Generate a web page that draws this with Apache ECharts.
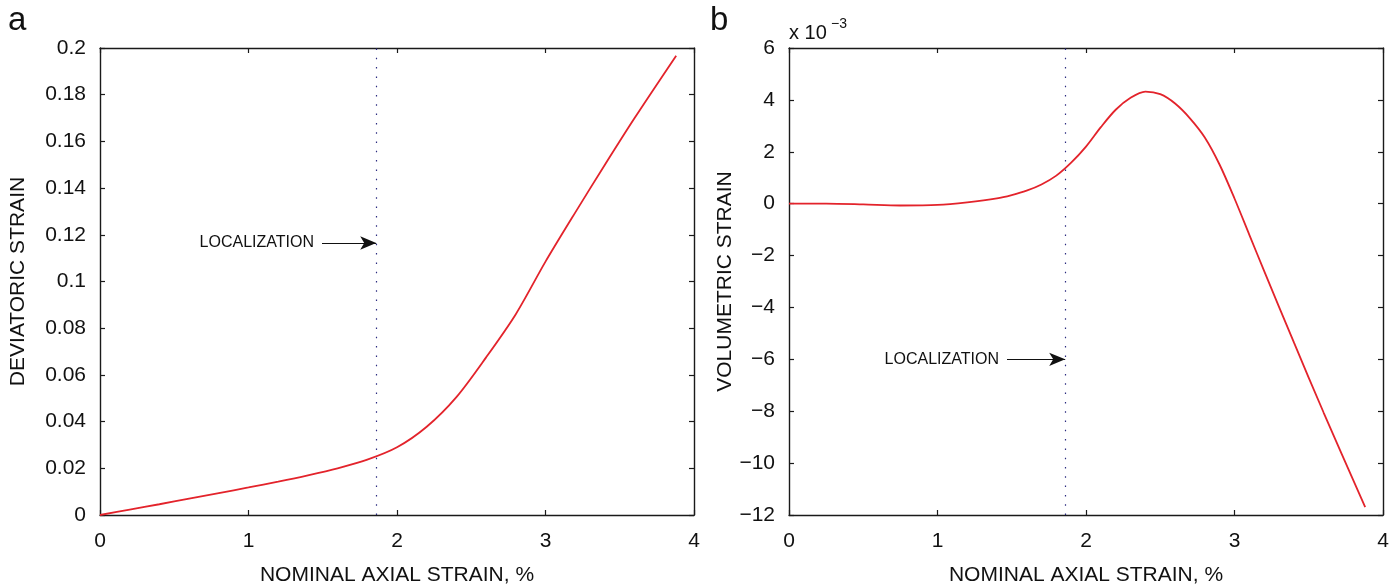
<!DOCTYPE html>
<html>
<head>
<meta charset="utf-8">
<script src="https://cdn.jsdelivr.net/npm/echarts@6/dist/echarts.min.js"></script>
<style>
html,body{margin:0;padding:0;background:#fff;}
#chart{width:1399px;height:586px;}
</style>
</head>
<body>
<div id="chart"></div>
<script>
// ---- data ----
const devStrainX = [0, 0.2, 0.4, 0.6, 0.8, 1.0, 1.2, 1.4, 1.6, 1.8, 2.0, 2.2, 2.4, 2.6, 2.8, 3.0, 3.2, 3.4, 3.6, 3.88];
const devStrainY = [0, 0.0023, 0.0046, 0.0070, 0.0094, 0.0118, 0.0143, 0.0170, 0.0200, 0.0237, 0.0290, 0.0378, 0.0505, 0.0675, 0.0860, 0.1085, 0.1295, 0.1500, 0.1700, 0.1967];
const volStrainX = [0, 0.25, 0.5, 0.75, 1.0, 1.2, 1.4, 1.5, 1.6, 1.7, 1.8, 1.9, 2.0, 2.1, 2.2, 2.3, 2.4, 2.5, 2.6, 2.7, 2.8, 2.9, 3.0, 3.1, 3.2, 3.4, 3.6, 3.88];
const volStrainY = [0, 0, -0.03, -0.07, -0.05, 0.05, 0.2, 0.33, 0.5, 0.74, 1.08, 1.58, 2.2, 2.95, 3.62, 4.08, 4.32, 4.22, 3.86, 3.29, 2.55, 1.5, 0.2, -1.2, -2.6, -5.35, -8.05, -11.7];
const localizationX = 1.86;
const arrowA = {fromX: 1.495, y: 0.1165};
const arrowB = {fromX: 1.468, y: -6.0};
const xTicks = {min: 0, max: 4, interval: 1};
const devTicks = {min: 0, max: 0.2, interval: 0.02};
const volTicks = {min: -12, max: 6, interval: 2};
const xName = 'NOMINAL AXIAL STRAIN, %';
const devName = 'DEVIATORIC STRAIN';
const volName = 'VOLUMETRIC STRAIN';
const locLabel = 'LOCALIZATION';

// ---- chart ----
const FONT = 'Liberation Sans, Arial, sans-serif';
const axisCol = '#1a1a1a';
const red = '#e3232b';
const dotCol = '#2c2c80';

function pairs(xs, ys){ return xs.map((x,i)=>[x, ys[i]]); }
const minus = v => String(v).replace('-', '\u2212');

function xAxisMain(gi){
  return {type:'value', gridIndex:gi, position:'bottom', min:xTicks.min, max:xTicks.max, interval:xTicks.interval,
    name:xName, nameLocation:'middle', nameGap:50, nameTextStyle:{fontFamily:FONT, fontSize:21, color:'#111'},
    axisLine:{show:true, onZero:false, lineStyle:{color:axisCol, width:1.4}},
    axisTick:{show:true, inside:true, length:5, lineStyle:{color:axisCol, width:1.2}},
    axisLabel:{fontFamily:FONT, fontSize:21, color:'#111', margin:16},
    splitLine:{show:false}};
}
function xAxisTop(gi){
  return {type:'value', gridIndex:gi, position:'top', min:xTicks.min, max:xTicks.max, interval:xTicks.interval,
    axisLine:{show:true, onZero:false, lineStyle:{color:axisCol, width:1.4}},
    axisTick:{show:true, inside:true, length:5, lineStyle:{color:axisCol, width:1.2}},
    axisLabel:{show:false}, splitLine:{show:false}};
}
function yAxis(gi, t, name, gap, pos, fmt){
  const main = pos === 'left';
  return {type:'value', gridIndex:gi, position:pos, min:t.min, max:t.max, interval:t.interval,
    name: main ? name : '', nameLocation:'middle', nameGap:gap, nameRotate:90,
    nameTextStyle:{fontFamily:FONT, fontSize:21, color:'#111'},
    axisLine:{show:true, onZero:false, lineStyle:{color:axisCol, width:1.4}},
    axisTick:{show:true, inside:true, length:5, lineStyle:{color:axisCol, width:1.2}},
    axisLabel:{show:main, fontFamily:FONT, fontSize:21, color:'#111', margin:14, formatter:fmt},
    splitLine:{show:false}};
}

function locMark(arrow, t){
  return {
    silent:true, symbol:['none','none'], animation:false,
    data:[
      [{coord:[localizationX, t.min], lineStyle:{type:[1.5,7.8], color:dotCol, width:1.2}, label:{show:false}},
       {coord:[localizationX, t.max]}],
      [{coord:[arrow.fromX, arrow.y], symbol:'none', lineStyle:{type:'solid', color:'#111', width:1.2},
        label:{show:true, position:'start', formatter:locLabel, fontFamily:FONT, fontSize:16, color:'#111', distance:8}},
       {coord:[localizationX, arrow.y], symbol:'arrow', symbolSize:[10,16]}]
    ]
  };
}

const chart = echarts.init(document.getElementById('chart'), null, {renderer:'canvas'});
chart.setOption({
  animation:false,
  backgroundColor:'#fff',
  grid:[
    {left:100, top:48, width:594, height:467, outerBoundsMode:'none', containLabel:false},
    {left:789, top:48, width:594, height:467, outerBoundsMode:'none', containLabel:false}
  ],
  xAxis:[xAxisMain(0), xAxisTop(0), xAxisMain(1), xAxisTop(1)],
  yAxis:[
    yAxis(0, devTicks, devName, 71, 'left', v => String(+v.toFixed(2))),
    yAxis(0, devTicks, '', 0, 'right'),
    yAxis(1, volTicks, volName, 48, 'left', v => minus(v)),
    yAxis(1, volTicks, '', 0, 'right')
  ],
  series:[
    {type:'line', xAxisIndex:0, yAxisIndex:0, data:pairs(devStrainX, devStrainY), showSymbol:false, smooth:0.3,
     lineStyle:{color:red, width:1.8}, markLine:locMark(arrowA, devTicks), z:3},
    {type:'line', xAxisIndex:2, yAxisIndex:2, data:pairs(volStrainX, volStrainY), showSymbol:false, smooth:0.3,
     lineStyle:{color:red, width:1.8}, markLine:locMark(arrowB, volTicks), z:3}
  ],
  graphic:[
    {type:'text', left:8, top:4, style:{text:'a', fontFamily:FONT, fontSize:33, fill:'#111'}},
    {type:'text', left:710, top:4, style:{text:'b', fontFamily:FONT, fontSize:33, fill:'#111'}},
    {type:'text', left:789, top:23, style:{text:'x 10', fontFamily:FONT, fontSize:20, fill:'#111'}},
    {type:'text', left:831, top:17, style:{text:'\u22123', fontFamily:FONT, fontSize:14, fill:'#111'}}
  ]
});
</script>
</body>
</html>
